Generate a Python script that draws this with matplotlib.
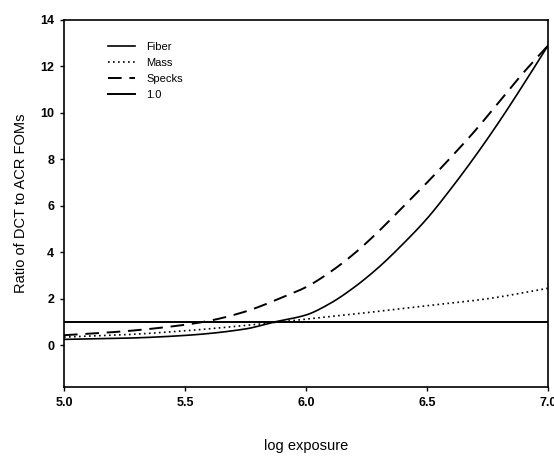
import matplotlib
matplotlib.use("Agg")
import matplotlib.pyplot as plt
import numpy as np

plt.rcParams['font.family'] = ['Liberation Sans', 'DejaVu Sans']

# Data
fiber_x = [5.0, 5.25, 5.5, 5.75, 5.87, 6.0, 6.1, 6.2, 6.3, 6.4, 6.5, 6.6, 6.7, 6.8, 6.9, 7.0]
fiber_y = [0.25, 0.3, 0.42, 0.7, 1.0, 1.3, 1.8, 2.5, 3.35, 4.35, 5.45, 6.75, 8.15, 9.65, 11.25, 12.9]

mass_x = [5.0, 5.25, 5.5, 5.75, 6.0, 6.25, 6.5, 6.75, 7.0]
mass_y = [0.35, 0.45, 0.62, 0.85, 1.12, 1.4, 1.7, 2.0, 2.45]

specks_x = [5.0, 5.25, 5.5, 5.6, 5.75, 5.9, 6.0, 6.1, 6.2, 6.3, 6.4, 6.5, 6.6, 6.7, 6.8, 6.9, 7.0]
specks_y = [0.43, 0.6, 0.88, 1.05, 1.45, 2.05, 2.5, 3.15, 3.95, 4.9, 5.95, 7.0, 8.1, 9.25, 10.5, 11.75, 12.9]

ref_x = [5.0, 7.0]
ref_y = [1.0, 1.0]

x_ticks = [5.0, 5.5, 6.0, 6.5, 7.0]
x_ticklabels = ["5.0", "5.5", "6.0", "6.5", "7.0"]
y_ticks = [0, 2, 4, 6, 8, 10, 12, 14]


def smooth(xs, ys, n=300):
    xs = np.asarray(xs, float)
    ys = np.asarray(ys, float)
    xx = np.linspace(xs[0], xs[-1], n)
    h = np.diff(xs)
    d = np.diff(ys) / h
    m = np.zeros_like(ys)
    m[0] = d[0]
    m[-1] = d[-1]
    for i in range(1, len(xs) - 1):
        if d[i - 1] * d[i] <= 0:
            m[i] = 0
        else:
            w1 = 2 * h[i] + h[i - 1]
            w2 = h[i] + 2 * h[i - 1]
            m[i] = (w1 + w2) / (w1 / d[i - 1] + w2 / d[i])
    idx = np.clip(np.searchsorted(xs, xx) - 1, 0, len(xs) - 2)
    t = (xx - xs[idx]) / h[idx]
    h00 = 2 * t**3 - 3 * t**2 + 1
    h10 = t**3 - 2 * t**2 + t
    h01 = -2 * t**3 + 3 * t**2
    h11 = t**3 - t**2
    yy = h00 * ys[idx] + h10 * h[idx] * m[idx] + h01 * ys[idx + 1] + h11 * h[idx] * m[idx + 1]
    return xx, yy


fig = plt.figure(figsize=(5.54, 4.58), dpi=100)
ax = fig.add_axes([64 / 554, 1 - 387 / 458, (548 - 64) / 554, (387 - 20) / 458])

fx, fy = smooth(fiber_x, fiber_y)
mx, my = smooth(mass_x, mass_y)
sx, sy = smooth(specks_x, specks_y)

ax.plot(fx, fy, color='black', lw=1.2, ls='-', label='Fiber')
ax.plot(mx, my, color='black', lw=1.2, ls=(0, (1, 2)), label='Mass')
ax.plot(sx, sy, color='black', lw=1.4, ls=(0, (7, 4)), label='Specks')
ax.plot(ref_x, ref_y, color='black', lw=1.4, ls='-', label='1.0')

ax.set_xlim(5.0, 7.0)
ax.set_ylim(-1.8, 14)
ax.set_xticks(x_ticks)
ax.set_xticklabels(x_ticklabels)
ax.set_yticks(y_ticks)
ax.tick_params(direction='out', length=3, width=1, labelsize=9, pad=4)
for lab in ax.get_xticklabels() + ax.get_yticklabels():
    lab.set_fontweight('bold')
for s in ax.spines.values():
    s.set_linewidth(1.2)

ax.set_ylabel('Ratio of DCT to ACR FOMs', fontsize=10.5, labelpad=9)
ax.set_xlabel('log exposure', fontsize=10.5, labelpad=22)

leg = ax.legend(loc='upper left', bbox_to_anchor=(0.071, 0.968), frameon=False,
                fontsize=8, handlelength=2.4, handletextpad=1.0,
                labelspacing=0.55)

fig.savefig('out.png', dpi=100)
